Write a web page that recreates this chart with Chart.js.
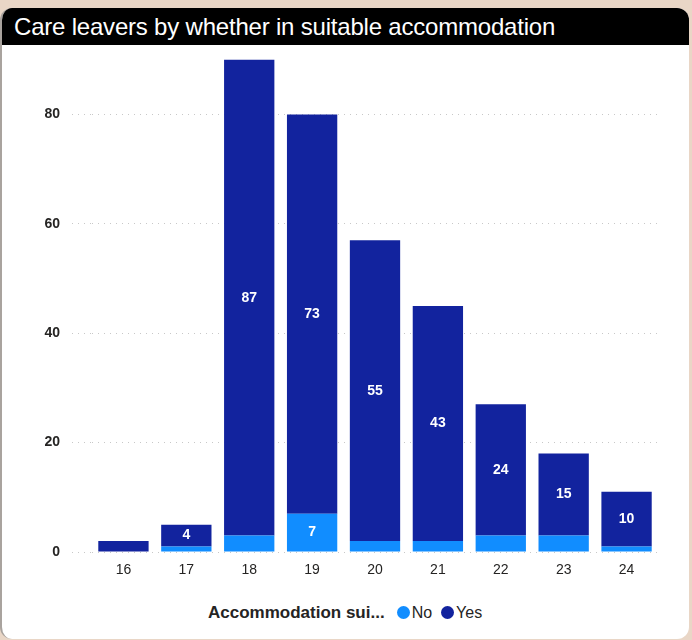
<!DOCTYPE html>
<html>
<head>
<meta charset="utf-8">
<script src="https://cdn.jsdelivr.net/npm/chart.js@4"></script>
<style>
  html, body { margin: 0; padding: 0; }
  body { width: 692px; height: 640px; background: #e9d6c6; position: relative; overflow: hidden; font-family: "Liberation Sans", Arial, sans-serif; }
  #card { position: absolute; left: 0; top: 8px; width: 689px; height: 631px; background: #fff; border-left: 2px solid #a9a39e; border-radius: 12px; overflow: hidden; box-sizing: border-box; }
  #title { position: absolute; left: 0; top: 0; width: 100%; height: 37px; background: #000; color: #fff; font-size: 24px; line-height: 37px; padding-left: 12px; box-sizing: border-box; letter-spacing: -0.2px; z-index: 2; }
  #box { position: absolute; left: 0; top: 26px; width: 687px; height: 552px; z-index: 1; }
  #legend { position: absolute; left: 206px; top: 595px; font-size: 16px; color: #252423; white-space: nowrap; }
  #legend b { font-size: 17px; margin-right: 12px; }
  .dot { display: inline-block; width: 13px; height: 13px; border-radius: 50%; margin-right: 2px; vertical-align: -1px; }
  .item { margin-right: 9px; }
</style>
</head>
<body>
<div id="card">
  <div id="title">Care leavers by whether in suitable accommodation</div>
  <div id="box"><canvas id="myChart"></canvas></div>
  <div id="legend"></div>
</div>
<script>
ages = ["16", "17", "18", "19", "20", "21", "22", "23", "24"];
noVals = [0, 1, 3, 7, 2, 2, 3, 3, 1];
yesVals = [2, 4, 87, 73, 55, 43, 24, 15, 10];
yTicks = [0, 20, 40, 60, 80];
noColor = "#118DFF";
yesColor = "#12239E";

// legend under the plot
document.getElementById("legend").innerHTML =
  "<b>Accommodation sui...</b>" +
  "<span class='item'><span class='dot' style='background:" + noColor + "'></span>No</span>" +
  "<span class='item'><span class='dot' style='background:" + yesColor + "'></span>Yes</span>";

const barLabels = {
  id: "barLabels",
  afterDatasetsDraw(chart) {
    const ctx = chart.ctx;
    ctx.save();
    ctx.fillStyle = "#fff";
    ctx.font = "bold 14px 'Liberation Sans', Arial, sans-serif";
    ctx.textAlign = "center";
    ctx.textBaseline = "middle";
    chart.data.datasets.forEach((ds, i) => {
      chart.getDatasetMeta(i).data.forEach((bar, j) => {
        const v = ds.data[j];
        if (v < 4) return;
        ctx.fillText(v, bar.x, (bar.y + bar.base) / 2);
      });
    });
    ctx.restore();
  }
};

new Chart(document.getElementById("myChart"), {
  type: "bar",
  data: {
    labels: ages,
    datasets: [
      { label: "No", data: noVals, backgroundColor: noColor },
      { label: "Yes", data: yesVals, backgroundColor: yesColor }
    ]
  },
  options: {
    responsive: true,
    maintainAspectRatio: false,
    animation: false,
    layout: { padding: { top: 0, right: 31, bottom: 0, left: 0 } },
    plugins: { legend: { display: false }, tooltip: { enabled: false } },
    datasets: { bar: { categoryPercentage: 1, barPercentage: 0.8 } },
    scales: {
      x: {
        stacked: true,
        grid: { display: false },
        border: { display: false },
        ticks: { color: "#252423", font: { size: 14, family: "'Liberation Sans', Arial" }, padding: 2 },
        afterFit(s) { s.height = 34; }
      },
      y: {
        stacked: true,
        min: 0,
        max: 91,
        afterBuildTicks(s) { s.ticks = yTicks.map(v => ({ value: v })); },
        border: { display: false, dash: [1, 5] },
        grid: { color: "#c8c8c8", lineWidth: 1, tickLength: 20, tickColor: "#c8c8c8", tickBorderDash: [1, 5] },
        ticks: { color: "#252423", font: { size: 14, weight: "bold", family: "'Liberation Sans', Arial" }, padding: 12 },
        afterFit(s) { s.width = 90; }
      }
    }
  },
  plugins: [barLabels]
});
</script>
</body>
</html>
